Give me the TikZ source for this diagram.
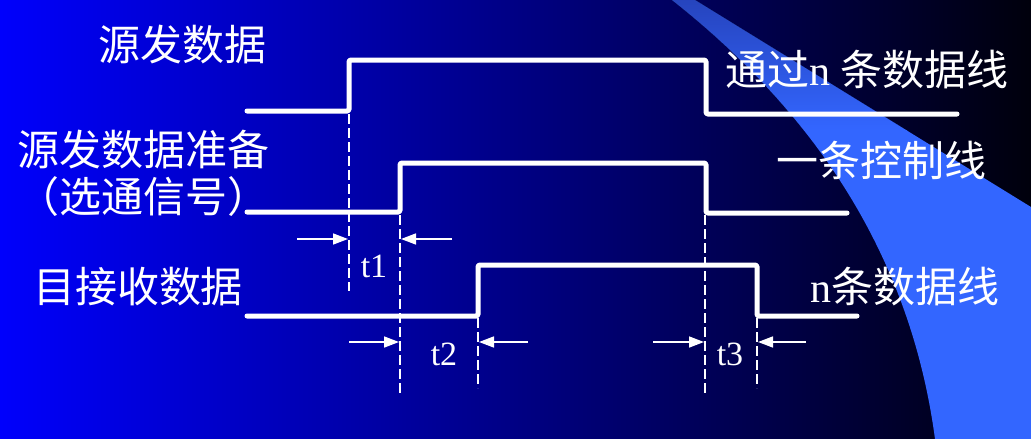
\documentclass[tikz,border=0pt]{standalone}
\usepackage{fontspec}
\setmainfont{Liberation Serif}
\newfontfamily\cjk{Noto Sans CJK SC}
\usetikzlibrary{arrows.meta}
\definecolor{bgl}{RGB}{0,0,252}
\definecolor{bgm}{RGB}{0,0,180}
\definecolor{bgr}{RGB}{0,0,12}
\definecolor{bandblue}{RGB}{51,102,255}
\definecolor{bandtop}{RGB}{38,68,190}
\begin{document}
\begin{tikzpicture}[x=1pt,y=-1pt,
  wave/.style={white,line width=5pt,rounded corners=1.5pt,line cap=round,line join=round},
  guide/.style={white,line width=2.8pt,dash pattern=on 10pt off 4pt},
  dim/.style={white,line width=1.6pt,-{Triangle[length=15pt,width=11pt]}},
  lbl/.style={text=white,font=\cjk\fontsize{42}{46}\selectfont,inner sep=0pt},
  tl/.style={text=white,font=\fontsize{34}{38}\selectfont,inner sep=0pt}]
\useasboundingbox (0,0) rectangle (1031,439);
% background
\fill[left color=bgl,middle color=bgm,right color=bgr] (0,0) rectangle (1031,439);
% light band
\fill[bandblue] (672,0) .. controls (824,120) and (912,266) .. (935,439) -- (1031,439) -- (1031,207) -- (695,0) -- cycle;
\begin{scope}
\clip (672,0) .. controls (824,120) and (912,266) .. (935,439) -- (1031,439) -- (1031,207) -- (695,0) -- cycle;
\fill[top color=bandtop,bottom color=bandblue] (660,-1) rectangle (1031,130);
\end{scope}
% waveforms
\draw[wave] (247,111) -- (349,111) -- (349,60) -- (706,60) -- (706,114) -- (957,114);
\draw[wave] (247,212) -- (400,212) -- (400,163) -- (706,163) -- (706,213) -- (847,213);
\draw[wave] (247,316) -- (478,316) -- (478,265) -- (757,265) -- (757,316) -- (857,316);
% guide coordinates
\coordinate (g1a) at (349,114); \coordinate (g1b) at (349,291);
\coordinate (g2a) at (400,215); \coordinate (g2b) at (400,394);
\coordinate (g3a) at (478,318); \coordinate (g3b) at (478,388);
\coordinate (g4a) at (705,215); \coordinate (g4b) at (705,394);
\coordinate (g5a) at (757,318); \coordinate (g5b) at (757,388);
\draw[guide] (g1a) -- (g1b);
\draw[guide] (g2a) -- (g2b);
\draw[guide] (g3a) -- (g3b);
\draw[guide] (g4a) -- (g4b);
\draw[guide] (g5a) -- (g5b);
% dimension arrows
\coordinate (a1s) at (297,239); \coordinate (a1e) at (348,239);
\coordinate (a2s) at (452,239); \coordinate (a2e) at (401,239);
\coordinate (a3s) at (349,342); \coordinate (a3e) at (399,342);
\coordinate (a4s) at (528,342); \coordinate (a4e) at (479,342);
\coordinate (a5s) at (653,342); \coordinate (a5e) at (704,342);
\coordinate (a6s) at (806,342); \coordinate (a6e) at (758,342);
\draw[dim] (a1s) -- (a1e);
\draw[dim] (a2s) -- (a2e);
\draw[dim] (a3s) -- (a3e);
\draw[dim] (a4s) -- (a4e);
\draw[dim] (a5s) -- (a5e);
\draw[dim] (a6s) -- (a6e);
% labels
\node[tl] (t1) at (374,266) {t1};
\node[tl] (t2) at (444,354) {t2};
\node[tl] (t3) at (730,354) {t3};
\node[lbl] (src) at (182,45) {源发数据};
\node[lbl] (prep) at (143,150) {源发数据准备};
\node[lbl] (strobe) at (143,197) {（选通信号）};
\node[lbl] (dst) at (138,287) {目接收数据};
\node[lbl] (r1) at (867,70) {通过{\rmfamily n} 条数据线};
\node[lbl] (r2) at (881,160) {一条控制线};
\node[lbl] (r3) at (905,287) {{\rmfamily n}条数据线};
\end{tikzpicture}
\end{document}
